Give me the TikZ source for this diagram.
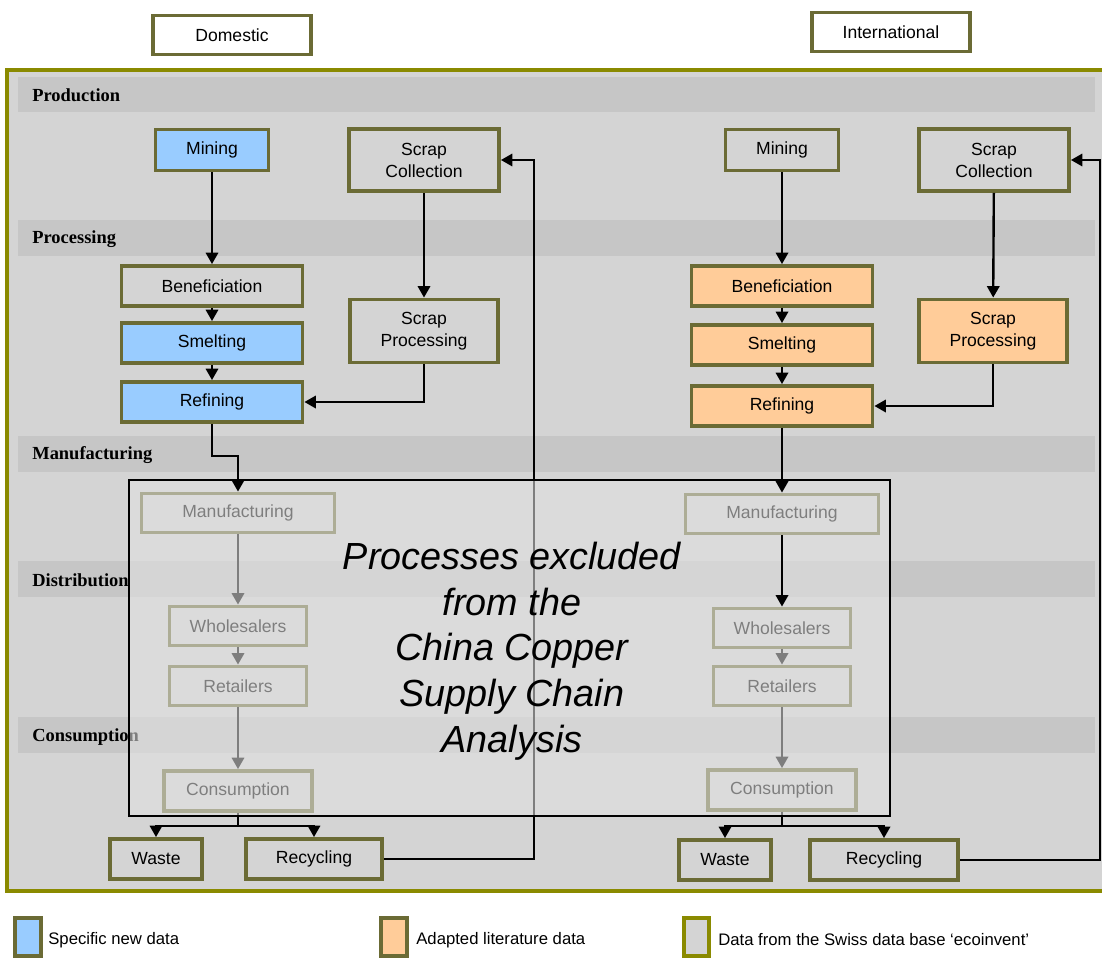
\documentclass[tikz,border=0pt]{standalone}
\usepackage{fontspec}
\setmainfont{Liberation Sans}
\newfontfamily\bandfont{Liberation Serif}
\usetikzlibrary{arrows.meta}
\definecolor{olivebox}{HTML}{6B6B35}
\definecolor{oliveframe}{HTML}{8A8A00}
\definecolor{boxgray}{HTML}{D4D4D4}
\definecolor{bandgray}{HTML}{C6C6C6}
\definecolor{newblue}{HTML}{99CCFF}
\definecolor{litorange}{HTML}{FFCC99}
\definecolor{veilgray}{HTML}{E2E2E2}
\begin{document}
\begin{tikzpicture}[x=0.02cm, y=-0.02cm,
    proc/.style={draw=olivebox, line width=2.2pt, fill=boxgray, align=center, inner sep=0pt, font=\fontsize{10}{12.5}\selectfont},
    newdata/.style={proc, fill=newblue},
    litdata/.style={proc, fill=litorange},
    flow/.style={-{Triangle[length=6.5pt,width=7pt]}, line width=1.35pt},
    band/.style={fill=bandgray},
    bandlabel/.style={anchor=west, inner sep=0pt, font=\bandfont\bfseries\fontsize{10.5}{12}\selectfont},
    legendtext/.style={anchor=west, inner sep=0pt, font=\fontsize{9.5}{12}\selectfont}]
  \useasboundingbox (0,0) rectangle (1102,957);

  \fill[boxgray] (7,70) rectangle (1102,891);
  \draw[oliveframe, line width=1.8pt] (1102,70) -- (7,70) -- (7,891) -- (1102,891);
  \fill[band] (18,77) rectangle (1095,112);
  \fill[band] (18,220) rectangle (1095,256);
  \fill[band] (18,436) rectangle (1095,472);
  \fill[band] (18,561) rectangle (1095,597);
  \fill[band] (18,717) rectangle (1095,753);
  \node[bandlabel] (lprod) at (32,95) {Production};
  \node[bandlabel] (lproc) at (32,239) {Processing};
  \node[bandlabel] (lmanu) at (32,455) {Manufacturing};
  \node[bandlabel] (ldist) at (32,580) {Distribution};
  \node[bandlabel] (lcons) at (32,737) {Consumption};

  \node[proc, fill=white, minimum width=3.16cm, minimum height=0.78cm] (dom) at (232,35) {Domestic};
  \node[proc, fill=white, minimum width=3.16cm, minimum height=0.78cm] (intl) at (891,32) {International};

  \node[newdata, minimum width=2.26cm, minimum height=0.82cm] (dmin) at (212,150) {Mining};
  \node[proc, minimum width=3.0cm, minimum height=1.24cm] (dscol) at (424,160) {Scrap\\Collection};
  \node[proc, minimum width=3.62cm, minimum height=0.8cm] (dben) at (212,286) {Beneficiation};
  \node[newdata, minimum width=3.62cm, minimum height=0.8cm] (dsme) at (212,343) {Smelting};
  \node[newdata, minimum width=3.62cm, minimum height=0.8cm] (dref) at (212,402) {Refining};
  \node[proc, minimum width=2.96cm, minimum height=1.26cm] (dspro) at (424,331) {Scrap\\Processing};
  \node[proc, minimum width=3.86cm, minimum height=0.78cm] (dman) at (238,513) {Manufacturing};
  \node[proc, minimum width=2.74cm, minimum height=0.78cm] (dwho) at (238,626) {Wholesalers};
  \node[proc, minimum width=2.74cm, minimum height=0.78cm] (dret) at (238,686) {Retailers};
  \node[proc, minimum width=2.96cm, minimum height=0.8cm] (dcon) at (238,791) {Consumption};
  \node[proc, minimum width=1.84cm, minimum height=0.8cm] (dwas) at (156,859) {Waste};
  \node[proc, minimum width=2.72cm, minimum height=0.8cm] (drec) at (314,859) {Recycling};

  \node[proc, minimum width=2.26cm, minimum height=0.82cm] (imin) at (782,150) {Mining};
  \node[proc, minimum width=3.0cm, minimum height=1.24cm] (iscol) at (994,160) {Scrap\\Collection};
  \node[litdata, minimum width=3.62cm, minimum height=0.8cm] (iben) at (782,286) {Beneficiation};
  \node[litdata, minimum width=3.62cm, minimum height=0.8cm] (isme) at (782,345) {Smelting};
  \node[litdata, minimum width=3.62cm, minimum height=0.8cm] (iref) at (782,406) {Refining};
  \node[litdata, minimum width=2.96cm, minimum height=1.26cm] (ispro) at (993,331) {Scrap\\Processing};
  \node[proc, minimum width=3.86cm, minimum height=0.78cm] (iman) at (782,514) {Manufacturing};
  \node[proc, minimum width=2.74cm, minimum height=0.78cm] (iwho) at (782,628) {Wholesalers};
  \node[proc, minimum width=2.74cm, minimum height=0.78cm] (iret) at (782,686) {Retailers};
  \node[proc, minimum width=2.96cm, minimum height=0.8cm] (icon) at (782,790) {Consumption};
  \node[proc, minimum width=1.84cm, minimum height=0.8cm] (iwas) at (725,860) {Waste};
  \node[proc, minimum width=2.96cm, minimum height=0.8cm] (irec) at (884,860) {Recycling};

  \coordinate (dsplit) at (238,826);
  \coordinate (dloop) at (534,160);
  \coordinate (isplit) at (782,826);
  \coordinate (iloop) at (1100,160);

  \draw[flow] (dmin) -- (dben);
  \draw[flow] (dben) -- (dsme);
  \draw[flow] (dsme) -- (dref);
  \draw[flow] (dscol) -- (dspro);
  \draw[flow] (dspro.south) |- (dref.east);
  \draw[flow] (dman) -- (dwho);
  \draw[flow] (dwho) -- (dret);
  \draw[flow] (dret) -- (dcon);
  \draw[line width=1.35pt] (dcon.south) -- (dsplit);
  \draw[flow] (dsplit) -| (dwas.north);
  \draw[flow] (dsplit) -| (drec.north);
  \draw[flow] (drec.east) -| (dloop) -- (dscol.east);

  \draw[flow] (imin) -- (iben);
  \draw[flow] (iben) -- (isme);
  \draw[flow] (isme) -- (iref);
  \draw[flow] (iscol) -- (ispro);
  \draw[flow] (ispro.south) |- (iref.east);
  \draw[flow] (iwho) -- (iret);
  \draw[flow] (iret) -- (icon);
  \draw[line width=1.35pt] (icon.south) -- (isplit);
  \draw[flow] (isplit) -| (iwas.north);
  \draw[flow] (isplit) -| (irec.north);
  \draw[flow] (irec.east) -| (iloop) -- (iscol.east);

  \draw[black, line width=1pt, fill=veilgray, fill opacity=0.56] (129,480) rectangle (890,816);
  \node[align=center, font=\itshape\fontsize{21.5}{26}\selectfont] (excl) at (512,651) {Processes excluded\\from the\\China Copper\\Supply Chain\\Analysis};

  \draw[flow] (dref.south) -- ++(0,32) -| (dman.north);
  \draw[flow] (iref) -- (iman);
  \draw[flow] (iman) -- (iwho);

  \draw[draw=olivebox, line width=2pt, fill=newblue] (15,918) rectangle (41,956);
  \node[legendtext] (knew) at (48,940) {Specific new data};
  \draw[draw=olivebox, line width=2pt, fill=litorange] (381,918) rectangle (407,956);
  \node[legendtext] (klit) at (416,940) {Adapted literature data};
  \draw[draw=oliveframe, line width=2pt, fill=boxgray] (684,918) rectangle (709,956);
  \node[legendtext] (keco) at (718,940) {Data from the Swiss data base ‘ecoinvent’};
\end{tikzpicture}
\end{document}
